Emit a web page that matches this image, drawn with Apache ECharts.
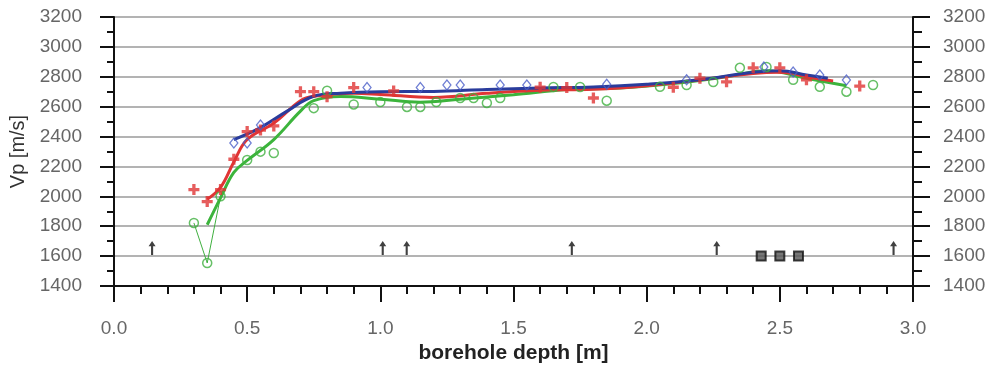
<!DOCTYPE html>
<html><head><meta charset="utf-8">
<script src="https://cdn.jsdelivr.net/npm/echarts@6/dist/echarts.min.js"></script>
<style>html,body{margin:0;padding:0;background:#fff}#c{width:995px;height:370px}</style>
</head><body><div id="c"></div>
<script>
// ---- data ----
const redPts = [[0.30,2045],[0.35,1965],[0.40,2045],[0.45,2248],[0.50,2433],[0.55,2444],[0.60,2471],[0.70,2700],[0.75,2700],[0.80,2667],[0.90,2728],[1.05,2705],[1.60,2730],[1.70,2728],[1.80,2658],[2.10,2730],[2.20,2790],[2.30,2766],[2.40,2860],[2.50,2860],[2.60,2780],[2.80,2738]];
const bluePts = [[0.45,2357],[0.50,2357],[0.55,2477],[0.95,2728],[1.15,2728],[1.25,2745],[1.30,2745],[1.45,2745],[1.55,2745],[1.85,2750],[2.15,2780],[2.44,2865],[2.55,2832],[2.65,2812],[2.75,2778]];
const greenPts = [[0.30,1822],[0.35,1554],[0.40,2000],[0.50,2243],[0.55,2299],[0.60,2290],[0.75,2590],[0.80,2707],[0.90,2615],[1.00,2631],[1.10,2598],[1.15,2598],[1.21,2631],[1.30,2658],[1.35,2658],[1.40,2625],[1.45,2658],[1.65,2732],[1.75,2732],[1.85,2640],[2.05,2733],[2.15,2745],[2.25,2765],[2.35,2860],[2.45,2866],[2.55,2780],[2.65,2733],[2.75,2700],[2.85,2745]];
const greenRaw = [[0.30,1822],[0.35,1554],[0.40,2000]];
const blueFit = [[0.45,2380],[0.55,2460],[0.65,2570],[0.75,2670],[0.85,2690],[1.0,2700],[1.2,2702],[1.4,2715],[1.6,2725],[1.8,2732],[2.0,2750],[2.2,2780],[2.4,2830],[2.5,2840],[2.6,2812],[2.68,2790]];
const redFit = [[0.35,1980],[0.40,2060],[0.45,2230],[0.50,2380],[0.60,2490],[0.70,2640],[0.75,2670],[0.90,2690],[1.00,2682],[1.20,2662],[1.40,2690],[1.60,2710],[1.80,2716],[2.00,2740],[2.20,2780],[2.40,2822],[2.50,2830],[2.60,2800],[2.70,2772]];
const greenFit = [[0.35,1810],[0.40,1990],[0.45,2160],[0.50,2240],[0.60,2380],[0.70,2570],[0.75,2640],[0.85,2668],[1.00,2650],[1.15,2630],[1.30,2650],[1.50,2680],[1.70,2715],[1.90,2725],[2.10,2755],[2.30,2800],[2.45,2840],[2.60,2790],[2.75,2740]];
const arrowX = [0.143, 1.009, 1.099, 1.719, 2.263, 2.927];
const arrowY = 1655;
const squareX = [2.43, 2.50, 2.57];
const squareY = 1600;
const xTicks = {min:0, max:3, interval:0.5};
const yTicks = {min:1400, max:3200, interval:200};

const plusPath = 'path://M3.5,0 L6.5,0 L6.5,3.5 L10,3.5 L10,6.5 L6.5,6.5 L6.5,10 L3.5,10 L3.5,6.5 L0,6.5 L0,3.5 L3.5,3.5 Z';
const arrowPath = 'path://M5,0 L10,6 L6.5,6 L6.5,16 L3.5,16 L3.5,6 L0,6 Z';
const labelStyle = {color:'#666', fontSize:19, fontFamily:'Liberation Sans, Arial, sans-serif'};

const chart = echarts.init(document.getElementById('c'));
const yAxisBase = (pos) => ({
  type:'value', position:pos, min:yTicks.min, max:yTicks.max, interval:yTicks.interval,
  axisLine:{show:true, onZero:false, lineStyle:{color:'#111', width:2}},
  axisTick:{show:true, inside:false, length: pos==='left'?14:17, lineStyle:{color:'#111', width:2}},
  minorTick:{show:true, splitNumber:2, length: pos==='left'?7:9, lineStyle:{color:'#111', width:2}},
  axisLabel:Object.assign({margin: pos==='left'?32:30, formatter:v=>String(v)}, labelStyle),
  splitLine:{show: pos==='left', lineStyle:{color:'#9a9a9a', width:1.5}}
});
const yl = yAxisBase('left');
yl.name = 'Vp [m/s]'; yl.nameLocation = 'middle'; yl.nameGap = 84;
yl.nameTextStyle = {color:'#333', fontSize:20, fontFamily:'Liberation Sans, Arial, sans-serif'};
const yr = yAxisBase('right');

chart.setOption({
  animation:false,
  backgroundColor:'#fff',
  grid:{left:114, right:82, top:17, bottom:84, containLabel:false, outerBoundsMode:'none'},
  xAxis:{
    type:'value', min:xTicks.min, max:xTicks.max, interval:xTicks.interval,
    name:'borehole depth [m]', nameLocation:'middle', nameGap:56,
    nameTextStyle:{color:'#222', fontSize:21, fontWeight:'bold', fontFamily:'Liberation Sans, Arial, sans-serif'},
    axisLine:{show:true, onZero:false, lineStyle:{color:'#111', width:2}},
    axisTick:{show:true, length:16, lineStyle:{color:'#111', width:2}},
    minorTick:{show:true, splitNumber:5, length:8, lineStyle:{color:'#111', width:2}},
    axisLabel:Object.assign({margin:33, formatter:v=>v.toFixed(1)}, labelStyle),
    splitLine:{show:false}
  },
  yAxis:[yl, yr],
  series:[
    {type:'line', data:greenRaw, showSymbol:false, symbol:'none', lineStyle:{color:'#40b040', width:1}, z:2},
    {type:'line', data:greenFit, smooth:0.4, symbol:'none', lineStyle:{color:'#3cb43c', width:3}, z:3},
    {type:'line', data:redFit, smooth:0.4, symbol:'none', lineStyle:{color:'#e03535', width:3}, z:4},
    {type:'line', data:blueFit, smooth:0.4, symbol:'none', lineStyle:{color:'#2a3c9c', width:3}, z:5},
    {type:'scatter', data:greenPts, symbol:'circle', symbolSize:9, itemStyle:{color:'rgba(255,255,255,0)', borderColor:'#40b040', borderWidth:1.5}, z:6},
    {type:'scatter', data:redPts, symbol:plusPath, symbolSize:11, itemStyle:{color:'#e03535'}, z:7},
    {type:'scatter', data:bluePts, symbol:'diamond', symbolSize:[8,10], itemStyle:{color:'rgba(255,255,255,0)', borderColor:'#4a5ec8', borderWidth:1.3}, z:8},
    {type:'scatter', data:arrowX.map(x=>[x,arrowY]), symbol:arrowPath, symbolSize:[7,14], itemStyle:{color:'#111'}, z:9},
    {type:'scatter', data:squareX.map(x=>[x,squareY]), symbol:'rect', symbolSize:9, itemStyle:{color:'#555', borderColor:'#111', borderWidth:2}, z:9}
  ]
});
</script></body></html>
